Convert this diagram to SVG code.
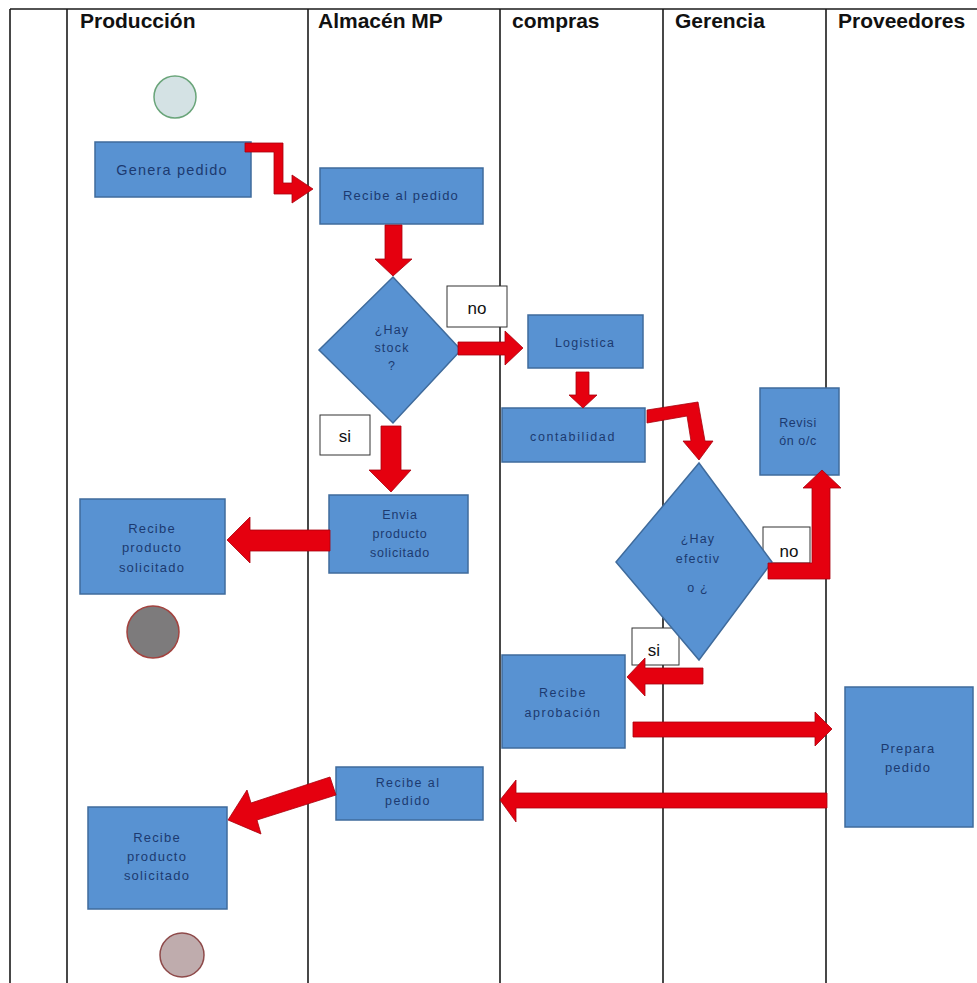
<svg xmlns="http://www.w3.org/2000/svg" width="977" height="983" viewBox="0 0 977 983">
<style>
.lane{stroke:#1a1a1a;stroke-width:1.6;fill:none}
.hdr{font-family:"Liberation Sans",Arial,sans-serif;font-weight:bold;font-size:21px;fill:#111}
.box{fill:#5892d2;stroke:#3f6b9c;stroke-width:1.5}
.t{font-family:"Liberation Sans",Arial,sans-serif;font-size:12.5px;fill:#1c3a70;text-anchor:middle;letter-spacing:1.2px}
.lbl{fill:#fff;stroke:#333;stroke-width:1}
.lt{font-family:"Liberation Sans",Arial,sans-serif;font-size:17px;fill:#111;text-anchor:middle}
.arr{fill:#e5000f;stroke:#a8000c;stroke-width:0.8;stroke-linejoin:miter}
</style>
<rect width="977" height="983" fill="#fff"/>
<g id="lanes">
<line class="lane" x1="10" y1="9" x2="977" y2="9"/>
<line class="lane" x1="10" y1="9" x2="10" y2="983"/>
<line class="lane" x1="67" y1="9" x2="67" y2="983"/>
<line class="lane" x1="308" y1="9" x2="308" y2="983"/>
<line class="lane" x1="500" y1="9" x2="500" y2="983"/>
<line class="lane" x1="663" y1="9" x2="663" y2="983"/>
<line class="lane" x1="826" y1="9" x2="826" y2="983"/>
<text class="hdr" x="80" y="28">Producción</text>
<text class="hdr" x="318" y="28">Almacén MP</text>
<text class="hdr" x="512" y="28">compras</text>
<text class="hdr" x="675" y="28">Gerencia</text>
<text class="hdr" x="838" y="28">Proveedores</text>
</g>
<g id="labels">
<g id="lbl-no1"><rect class="lbl" x="447" y="286" width="60" height="41"/><text class="lt" x="477" y="314">no</text></g>
<g id="lbl-si1"><rect class="lbl" x="320" y="415" width="50" height="40"/><text class="lt" x="345" y="442">si</text></g>
<g id="lbl-no2"><rect class="lbl" x="763" y="527" width="47" height="36"/><text class="lt" x="789" y="557">no</text></g>
<g id="lbl-si2"><rect class="lbl" x="632" y="628" width="47" height="37"/><text class="lt" x="654" y="656">si</text></g>
</g>
<g id="start"><circle cx="175" cy="97" r="21" fill="#d4e2e4" stroke="#6aa57a" stroke-width="1.5"/></g>
<g id="genera"><rect class="box" x="95" y="142" width="156" height="55"/><text class="t" x="172" y="175" style="font-size:14.5px">Genera pedido</text></g>
<g id="recibe-pedido"><rect class="box" x="320" y="168" width="163" height="56"/><text class="t" x="401" y="200" style="font-size:13px">Recibe al pedido</text></g>
<g id="hay-stock"><polygon class="box" points="393,277 461,350 393,423 319,350"/>
<text class="t" x="392" y="334">¿Hay</text><text class="t" x="392" y="352">stock</text><text class="t" x="392" y="370">?</text></g>
<g id="logistica"><rect class="box" x="528" y="315" width="115" height="53"/><text class="t" x="585" y="347">Logistica</text></g>
<g id="contabilidad"><rect class="box" x="502" y="408" width="143" height="54"/><text class="t" x="573" y="441" style="letter-spacing:1.6px">contabilidad</text></g>
<g id="envia"><rect class="box" x="329" y="495" width="139" height="78"/>
<text class="t" x="400" y="519" style="letter-spacing:0.8px">Envia</text><text class="t" x="400" y="538" style="letter-spacing:0.8px">producto</text><text class="t" x="400" y="557" style="letter-spacing:0.8px">solicitado</text></g>
<g id="recibe-prod-1"><rect class="box" x="80" y="499" width="145" height="95"/>
<text class="t" x="152" y="533" style="font-size:13px">Recibe</text><text class="t" x="152" y="552" style="font-size:13px">producto</text><text class="t" x="152" y="572" style="font-size:13px">solicitado</text></g>
<g id="end1"><circle cx="153" cy="632" r="26" fill="#7d7b7c" stroke="#a3433f" stroke-width="1.5"/></g>
<g id="revision"><rect class="box" x="760" y="388" width="79" height="87"/>
<text class="t" x="798" y="427" style="letter-spacing:0.6px">Revisi</text><text class="t" x="798" y="445" style="letter-spacing:0.6px">ón o/c</text></g>
<g id="hay-efectivo"><polygon class="box" points="699,463 772,562 699,660 616,562"/>
<text class="t" x="698" y="543">¿Hay</text><text class="t" x="698" y="563">efectiv</text><text class="t" x="698" y="592">o ¿</text></g>
<g id="recibe-aprob"><rect class="box" x="502" y="655" width="123" height="93"/>
<text class="t" x="563" y="697" style="letter-spacing:1.5px">Recibe</text><text class="t" x="563" y="717" style="letter-spacing:1.5px">aprobación</text></g>
<g id="prepara"><rect class="box" x="845" y="687" width="128" height="140"/>
<text class="t" x="908" y="753" style="font-size:13px">Prepara</text><text class="t" x="908" y="772" style="font-size:13px">pedido</text></g>
<g id="recibe-pedido-2"><rect class="box" x="336" y="767" width="147" height="53"/>
<text class="t" x="408" y="787" style="letter-spacing:1.4px">Recibe al</text><text class="t" x="408" y="805" style="letter-spacing:1.4px">pedido</text></g>
<g id="recibe-prod-2"><rect class="box" x="88" y="807" width="139" height="102"/>
<text class="t" x="157" y="842" style="font-size:13px">Recibe</text><text class="t" x="157" y="861" style="font-size:13px">producto</text><text class="t" x="157" y="880" style="font-size:13px">solicitado</text></g>
<g id="end2"><circle cx="182" cy="955" r="22" fill="#bfacad" stroke="#8e4a4a" stroke-width="1.5"/></g>
<g id="connectors">
<polygon class="arr" points="245,143 283,143 283,183 292,183 292,175 313,189 292,203 292,194 274,194 274,152 245,152"/>
<polygon class="arr" points="385,225 402,225 402,259 412,259 393,276 375,259 385,259"/>
<polygon class="arr" points="458,342 505,342 505,331 523,348 505,365 505,355 458,355"/>
<polygon class="arr" points="576,372 589,372 589,395 597,395 583,408 569,395 576,395"/>
<polygon class="arr" points="381,426 401,426 401,470 411,470 391,492 369,470 381,470"/>
<polygon class="arr" points="330,530 250,530 250,517 227,540 250,563 250,551 330,551"/>
<polygon class="arr" points="647,410 698,402 705,441 713,441 699,460 683,441 691,441 687,416 647,423"/>
<polygon class="arr" points="768,563 812,563 812,488 803,488 822,470 841,488 830,488 830,579 768,579"/>
<polygon class="arr" points="703,668 645,668 645,658 627,677 645,696 645,684 703,684"/>
<polygon class="arr" points="633,722 815,722 815,712 832,729 815,746 815,737 633,737"/>
<polygon class="arr" points="827,793 516,793 516,780 500,800 516,822 516,808 827,808"/>
<polygon class="arr" points="330,777 251,803 247,790 228,820 261,834 257,820 336,795"/>
</g>
</svg>
